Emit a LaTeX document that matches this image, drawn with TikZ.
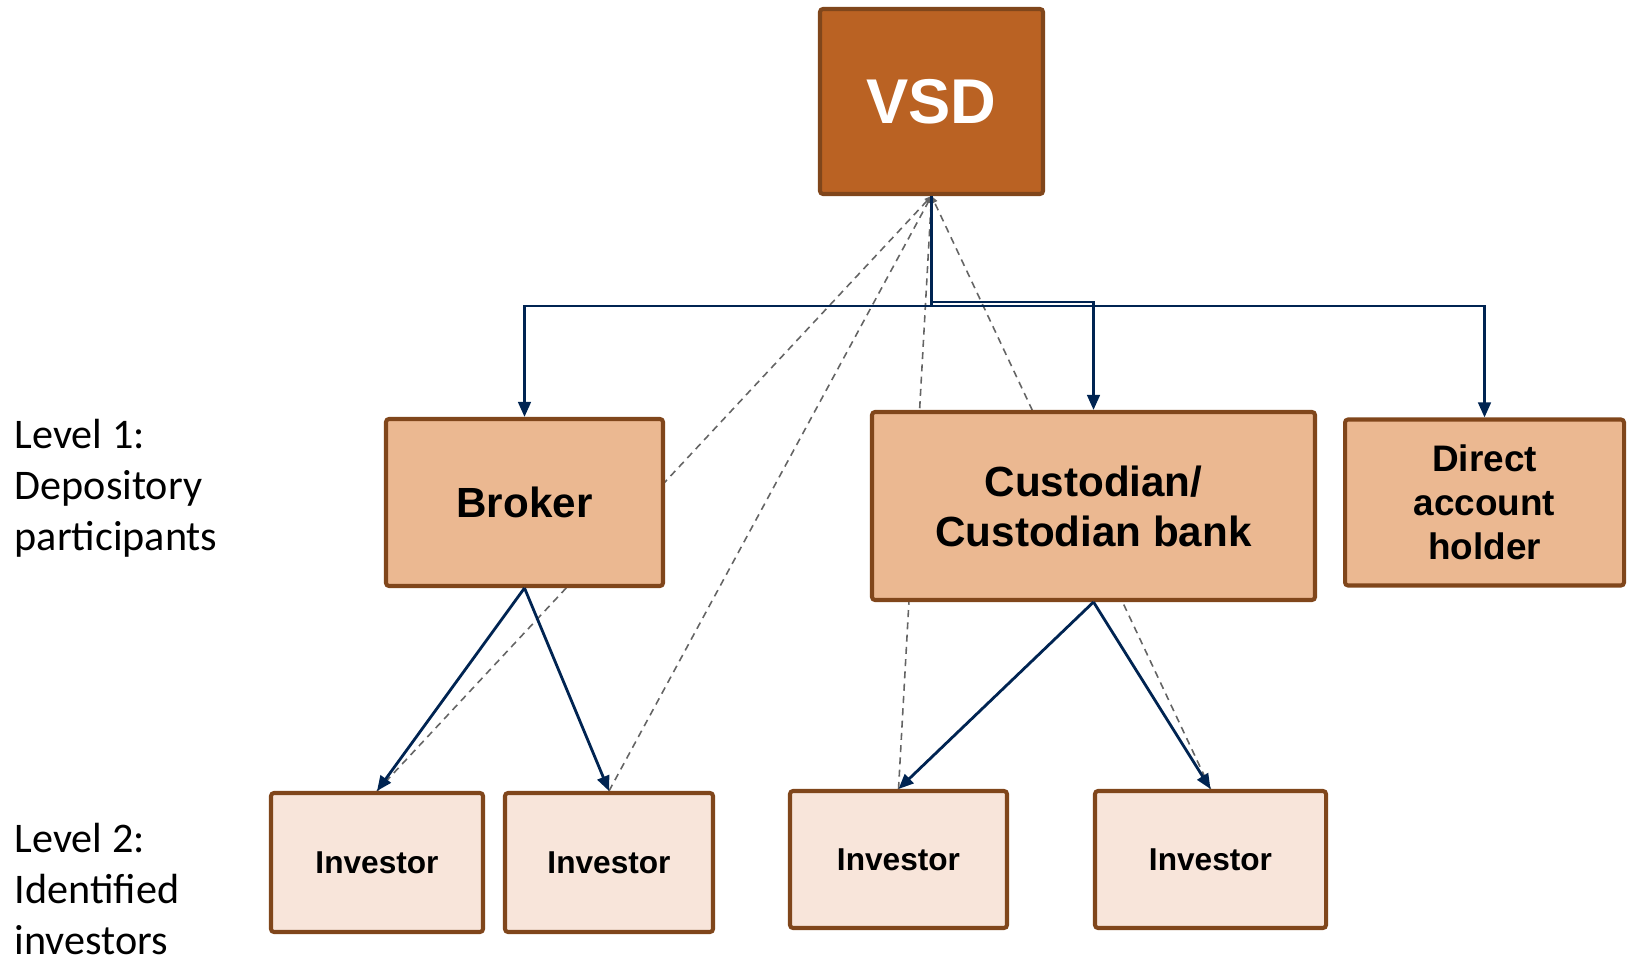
\documentclass[tikz,border=0pt]{standalone}
\usepackage{fontspec}
\setmainfont{Liberation Sans}
\newfontfamily\lvlfont{Carlito}
\usetikzlibrary{arrows.meta,positioning}
\pgfdeclarelayer{back}
\pgfsetlayers{back,main}
\definecolor{vsdfill}{RGB}{186,98,35}
\definecolor{boxline}{RGB}{128,70,27}
\definecolor{dpfill}{RGB}{235,184,145}
\definecolor{invfill}{RGB}{248,229,218}
\definecolor{navy}{RGB}{0,36,82}
\definecolor{dashgray}{RGB}{100,100,100}
\tikzset{
  % 箱
  box/.style={draw=boxline,line width=1.15pt,rounded corners=0.3mm,align=center,inner sep=0pt},
  vsd/.style={box,fill=vsdfill,text=white,font=\bfseries\fontsize{18}{22}\selectfont},
  dp/.style ={box,fill=dpfill,font=\bfseries\fontsize{12}{14.2}\selectfont},
  inv/.style={box,fill=invfill,font=\bfseries\fontsize{9}{11}\selectfont},
  % 矢印
  flow/.style={draw=navy,line width=.8pt,-{Triangle[length=1.5mm,width=1.25mm]}},
  link/.style={draw=dashgray,line width=.45pt,dash pattern=on 2pt off 1.5pt,
               -{Triangle[length=.7mm,width=.6mm]}},
  % レベル表示
  lvl/.style={font=\lvlfont\fontsize{12}{14.5}\selectfont,align=left,anchor=west,inner sep=0pt}
}

\begin{document}
\begin{tikzpicture}[x=0.1mm,y=-0.1mm]
  \useasboundingbox (0,0) rectangle (1627,958);

  %--- top
  \node[vsd,minimum width=22.3mm,minimum height=18.5mm] (vsd) at (931.5,101.5) {VSD};

  %--- level 1
  \node[dp,minimum width=27.7mm,minimum height=16.7mm] (broker) at (524.5,502.5) {Broker};
  \node[dp,minimum width=44.3mm,minimum height=18.8mm] (cust)   at (1093.5,506) {Custodian/\\Custodian bank};
  \node[dp,minimum width=27.9mm,minimum height=16.6mm,font=\bfseries\fontsize{10.5}{12.5}\selectfont]
        (direct) at (1484.5,502.5) {Direct\\account\\holder};

  %--- level 2
  \node[inv,minimum width=21.2mm,minimum height=13.9mm] (inv1) at (377,862.5)   {Investor};
  \node[inv,minimum width=20.8mm,minimum height=13.9mm] (inv2) at (609,862.5)   {Investor};
  \node[inv,minimum width=21.7mm,minimum height=13.7mm] (inv3) at (898.5,859.5) {Investor};
  \node[inv,minimum width=23.1mm,minimum height=13.7mm] (inv4) at (1210.5,859.5){Investor};

  %--- identification back to VSD (behind the boxes)
  \begin{pgfonlayer}{back}
    \foreach \i in {inv1,inv2,inv3,inv4}{
      \draw[link] (\i.north) -- (vsd.south);
    }
  \end{pgfonlayer}

  %--- holdings
  \draw[flow] (vsd.south) -- ++(0,110) -| (broker.north);
  \draw[flow] (vsd.south) -- ++(0,106) -| (cust.north);
  \draw[flow] (vsd.south) -- ++(0,110) -| (direct.north);
  \draw[flow] (broker.south) -- (inv1.north);
  \draw[flow] (broker.south) -- (inv2.north);
  \draw[flow] (cust.south) -- (inv3.north);
  \draw[flow] (cust.south) -- (inv4.north);

  %--- levels
  \node[lvl] (lvl1) at (14,488) {Level 1:\\Depository\\participants};
  \node[lvl] (lvl2) at (14,889) {Level 2:\\Identified\\investors};
\end{tikzpicture}
\end{document}
